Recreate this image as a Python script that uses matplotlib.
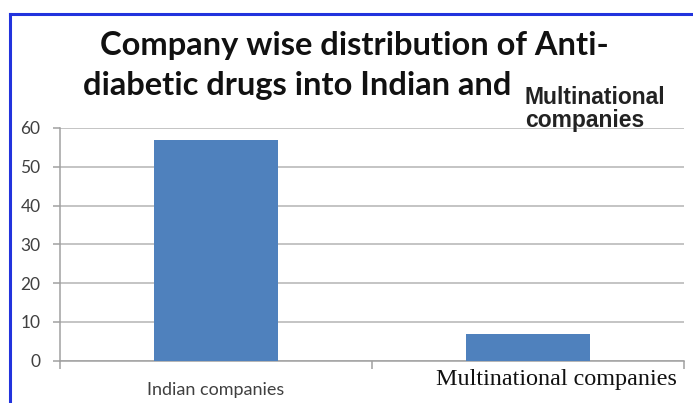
import numpy as np
import matplotlib.pyplot as plt
import matplotlib.transforms as mtransforms

categories = ['Indian companies', 'Multinational companies']
counts = [57, 7]
yticks = [0, 10, 20, 30, 40, 50, 60]

fig = plt.figure(figsize=(6.93, 4.03), dpi=100)
fig.patch.set_facecolor('white')

# blue frame on top / left like the original screenshot
fig.add_artist(plt.Line2D([10/693, 10/693], [0, 1 - 14/403], color='#2233dd', lw=2.2))
fig.add_artist(plt.Line2D([10/693, 1], [1 - 14/403, 1 - 14/403], color='#2233dd', lw=2.2))

ax = fig.add_axes([60/693, 1 - 360.7/403, 624/693, 232.7/403])
x = np.arange(len(categories))
ax.bar(x, counts, width=0.4, color='#4f81bd', zorder=3)
ax.set_xlim(-0.5, len(categories) - 0.5)
ax.set_ylim(0, 60)
ax.set_yticks(yticks)
ax.yaxis.grid(True, color='#bfbfbf', lw=1.3, zorder=0)
ax.tick_params(axis='y', length=5, width=1.1, color='#a0a0a0', labelcolor='#404040', labelsize=12.5, pad=9)
for lab in ax.get_yticklabels():
    lab.set_family('Lato')

ax.set_xticks(np.arange(len(categories) + 1) - 0.5)
ax.set_xticklabels([])
ax.tick_params(axis='x', length=6, width=1.1, color='#a0a0a0')

for s in ['top', 'right']:
    ax.spines[s].set_visible(False)
for s in ['left', 'bottom']:
    ax.spines[s].set_color('#a0a0a0')
    ax.spines[s].set_linewidth(1.1)

trans = mtransforms.blended_transform_factory(ax.transData, fig.transFigure)
ax.text(x[0], 1 - 390/403, categories[0], transform=trans, ha='center', va='center',
        family='Lato', fontsize=13, color='#404040')
ax.text(x[1] + 0.09, 1 - 380/403, categories[1], transform=trans, ha='center', va='center',
        family='Liberation Serif', fontsize=17.4, color='#111111')

fig.text(354/693, 1 - 45/403, 'Company wise distribution of Anti-', ha='center', va='center',
         family='Lato', fontweight='bold', fontsize=23.5, color='#111111')
fig.text(83/693, 1 - 86/403, 'diabetic drugs into Indian and', ha='left', va='center',
         family='Lato', fontweight='bold', fontsize=23.5, color='#111111')
fig.text(525/693, 1 - 109/403, 'Multinational\ncompanies', ha='left', va='center',
         multialignment='left', family='Liberation Sans', fontweight='bold', fontsize=16.5,
         color='#222222', linespacing=1.0)

fig.savefig('out.png', dpi=100)
